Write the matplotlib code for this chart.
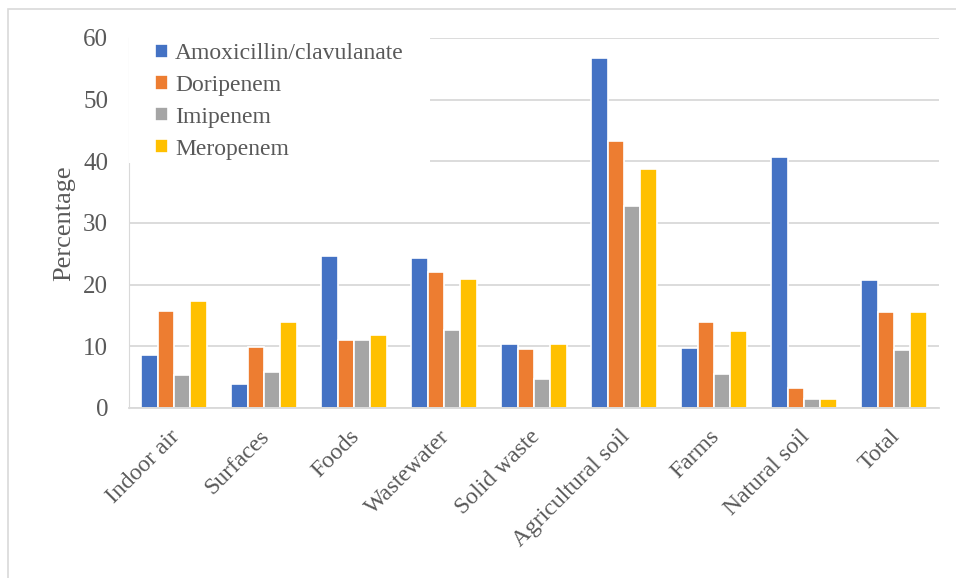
import numpy as np
import matplotlib.pyplot as plt
import matplotlib.transforms as mtransforms
from matplotlib.patches import Rectangle

categories = ['Indoor air', 'Surfaces', 'Foods', 'Wastewater', 'Solid waste',
              'Agricultural soil', 'Farms', 'Natural soil', 'Total']
amoxicillin = [8.6, 3.9, 24.6, 24.4, 10.4, 56.8, 9.8, 40.7, 20.7]
doripenem = [15.7, 9.9, 11.0, 22.1, 9.5, 43.3, 13.9, 3.3, 15.5]
imipenem = [5.4, 5.9, 11.0, 12.7, 4.7, 32.8, 5.5, 1.5, 9.4]
meropenem = [17.3, 13.9, 11.8, 20.9, 10.4, 38.8, 12.5, 1.5, 15.5]

series = [('Amoxicillin/clavulanate', amoxicillin, '#4472C4'),
          ('Doripenem', doripenem, '#ED7D31'),
          ('Imipenem', imipenem, '#A5A5A5'),
          ('Meropenem', meropenem, '#FFC000')]

text_color = '#595959'
fs = 17
plt.rcParams['font.family'] = ['Liberation Serif', 'DejaVu Serif']

fig = plt.figure(figsize=(9.56, 5.78), dpi=100)
ax = fig.add_axes([129 / 956, 170 / 578, 810 / 956, 370 / 578])

x = np.arange(len(categories))
step = 0.183
for i, (name, vals, col) in enumerate(series):
    ax.bar(x + (i - 1.5) * step, vals, width=step, color=col,
           edgecolor='white', linewidth=1.2, label=name, zorder=2)

ax.set_xlim(-0.5, len(categories) - 0.5)
ax.set_ylim(0, 60)
ax.set_yticks(range(0, 61, 10))
ax.yaxis.grid(True, color='#d9d9d9', linewidth=1.3, zorder=0)
ax.set_axisbelow(True)

for s in ['top', 'right']:
    ax.spines[s].set_visible(False)
ax.spines['left'].set_color('#d9d9d9')
ax.spines['bottom'].set_color('#d9d9d9')
ax.spines['bottom'].set_linewidth(1.3)

ax.tick_params(axis='both', length=0, colors=text_color, labelsize=fs)
ax.tick_params(axis='y', pad=15, labelsize=18)
ax.set_xticks(x)
ax.set_xticklabels(categories, rotation=45, ha='right', va='top',
                   rotation_mode='anchor', color=text_color, fontsize=fs)
ax.tick_params(axis='x', pad=13)
shift = mtransforms.ScaledTranslation(-5 / 100, 0, fig.dpi_scale_trans)
for lab in ax.get_xticklabels():
    lab.set_transform(lab.get_transform() + shift)

ax.set_ylabel('Percentage', fontsize=19, color=text_color)
ax.yaxis.set_label_coords(-0.066, 0.5)

# white block behind the legend, as in the original
ax.add_patch(Rectangle((0, 0.662), 0.372, 0.36, transform=ax.transAxes,
                       facecolor='white', edgecolor='none', zorder=3, clip_on=False))
leg = ax.legend(loc='upper left', bbox_to_anchor=(0.006, 1.044), frameon=False,
                fontsize=fs, handlelength=0.55, handleheight=0.55,
                handletextpad=0.3, labelspacing=0.46)
for t in leg.get_texts():
    t.set_color(text_color)
leg.set_zorder(4)

# outer chart border
fig.add_artist(Rectangle((8 / 956, -0.1), 1.2, 1.1 - 9 / 578, transform=fig.transFigure,
                         facecolor='none', edgecolor='#d9d9d9', linewidth=1.2))

fig.savefig('out.png', dpi=100)
